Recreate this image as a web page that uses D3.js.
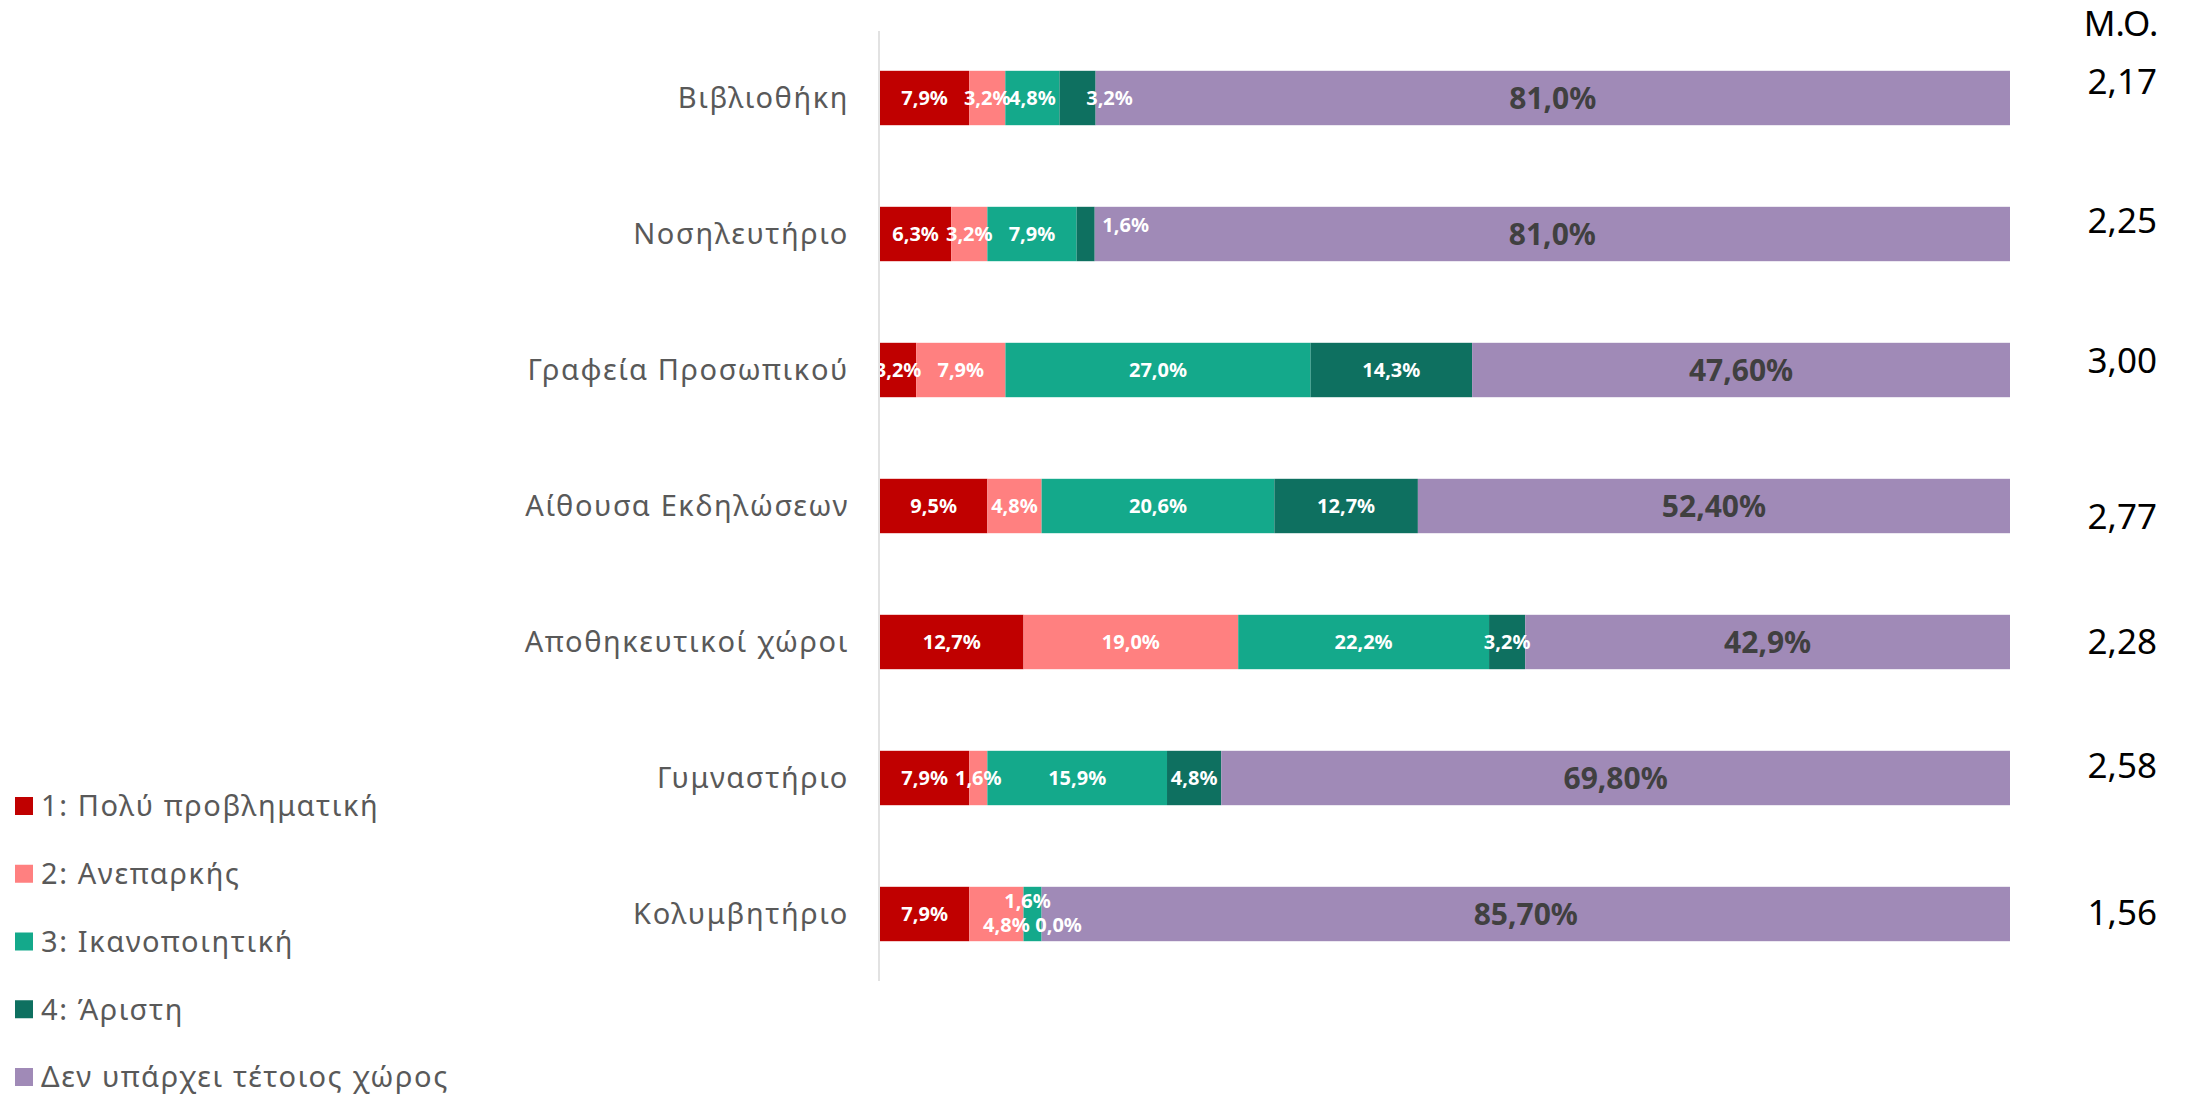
<!DOCTYPE html>
<html>
<head>
<meta charset="utf-8">
<script src="https://cdn.jsdelivr.net/npm/d3@7"></script>
<style>
html,body{margin:0;padding:0;background:#fff;}
svg{display:block;}
</style>
</head>
<body>
<svg id="chart" width="2194" height="1098"></svg>
<script>
// ---- DATA ----
const categories = ["Βιβλιοθήκη","Νοσηλευτήριο","Γραφεία Προσωπικού","Αίθουσα Εκδηλώσεων","Αποθηκευτικοί χώροι","Γυμναστήριο","Κολυμβητήριο"];
const seriesNames = ["1: Πολύ προβληματική","2: Ανεπαρκής","3: Ικανοποιητική","4: Άριστη","Δεν υπάρχει τέτοιος χώρος"];
const s1 = [7.9, 6.3, 3.2, 9.5, 12.7, 7.9, 7.9];
const s2 = [3.2, 3.2, 7.9, 4.8, 19.0, 1.6, 4.8];
const s3 = [4.8, 7.9, 27.0, 20.6, 22.2, 15.9, 1.6];
const s4 = [3.2, 1.6, 14.3, 12.7, 3.2, 4.8, 0.0];
const s5 = [81.0, 81.0, 47.6, 52.4, 42.9, 69.8, 85.7];
const s5Decimals = [1, 1, 2, 2, 1, 2, 2];
const meanHeader = "Μ.Ο.";
const meanScores = [2.17, 2.25, 3.00, 2.77, 2.28, 2.58, 1.56];

// ---- STYLE / LAYOUT ----
const colors = ["#C00000","#FF8080","#14A98B","#0E7060","#A08AB7"];
const FONT = "'Noto Sans', 'DejaVu Sans', sans-serif";
const labelNudge = { // manual label offsets [dx, dy], keyed row|series
  "0|3": [32, 0],
  "1|3": [40, -9],
  "6|1": [10, 11],
  "6|2": [-5, -13],
  "6|3": [17, 11]
};
const meanOffsets = [-17, -14, -10, 10, -1, -13, -2];

const rows = categories.map((c, i) => ({cat: c, s0: s1[i], s1: s2[i], s2: s3[i], s3: s4[i], s4: s5[i]}));
const keys = ["s0","s1","s2","s3","s4"];
const stack = d3.stack().keys(keys).offset(d3.stackOffsetExpand);
const stacked = stack(rows);

const svg = d3.select("#chart");
const x = d3.scaleLinear().domain([0, 1]).range([880, 2010]);
const y = d3.scaleBand().domain(categories).range([30, 982]).paddingInner(0.6).paddingOuter(0.3);

// axis line
svg.append("line").attr("x1", 879).attr("x2", 879).attr("y1", 31).attr("y2", 981)
  .attr("stroke", "#d9d9d9").attr("stroke-width", 1.5);

// bars
const groups = svg.append("g").selectAll("g").data(stacked).join("g")
  .attr("fill", (d, i) => colors[i]);
groups.selectAll("rect").data(d => d).join("rect")
  .attr("x", d => x(d[0]))
  .attr("width", d => Math.max(0, x(d[1]) - x(d[0])))
  .attr("y", d => y(d.data.cat))
  .attr("height", y.bandwidth());

// clip for labels
svg.append("clipPath").attr("id", "plotclip").append("rect")
  .attr("x", 880).attr("y", 0).attr("width", 1300).attr("height", 1098);

const fmt = (v, dec) => d3.format("." + dec + "f")(v).replace(".", ",") + "%";
const lblG = svg.append("g").attr("clip-path", "url(#plotclip)");
stacked.forEach((layer, si) => {
  layer.forEach((d, ri) => {
    const raw = [s1, s2, s3, s4, s5][si][ri];
    const nudge = labelNudge[ri + "|" + si] || [0, 0];
    const cx = (x(d[0]) + x(d[1])) / 2 + nudge[0];
    const cy = y(d.data.cat) + y.bandwidth() / 2 + nudge[1];
    const isLast = si === 4;
    lblG.append("text")
      .attr("x", cx).attr("y", cy)
      .attr("dy", "0.36em")
      .attr("text-anchor", "middle")
      .attr("font-family", FONT)
      .attr("font-weight", "bold")
      .attr("font-size", isLast ? 30 : 20)
      .attr("fill", isLast ? "#404040" : "#ffffff")
      .text(fmt(raw, isLast ? s5Decimals[ri] : 1));
  });
});

// category labels
svg.append("g").selectAll("text").data(categories).join("text")
  .attr("x", 849)
  .attr("y", d => y(d) + y.bandwidth() / 2)
  .attr("dy", "0.36em")
  .attr("text-anchor", "end")
  .attr("font-family", FONT)
  .attr("font-size", 29)
  .attr("letter-spacing", 1.6)
  .attr("fill", "#595959")
  .text(d => d);

// mean column
svg.append("text").attr("x", 2121).attr("y", 36)
  .attr("text-anchor", "middle").attr("font-family", FONT).attr("font-size", 35)
  .attr("fill", "#000").text(meanHeader);
svg.append("g").selectAll("text").data(meanScores).join("text")
  .attr("x", 2157)
  .attr("y", (d, i) => y(categories[i]) + y.bandwidth() / 2 + meanOffsets[i])
  .attr("dy", "0.36em")
  .attr("text-anchor", "end")
  .attr("font-family", FONT)
  .attr("font-size", 35)
  .attr("fill", "#000")
  .text(d => d3.format(".2f")(d).replace(".", ","));

// legend
const leg = svg.append("g").selectAll("g").data(seriesNames).join("g")
  .attr("transform", (d, i) => `translate(15, ${806 + i * 67.75})`);
leg.append("rect").attr("x", 0).attr("y", -9).attr("width", 18).attr("height", 18)
  .attr("fill", (d, i) => colors[i]);
leg.append("text").attr("x", 26).attr("y", 0).attr("dy", "0.36em")
  .attr("font-family", FONT).attr("font-size", 29).attr("letter-spacing", 1.6)
  .attr("fill", "#595959")
  .text(d => d);
</script>
</body>
</html>
